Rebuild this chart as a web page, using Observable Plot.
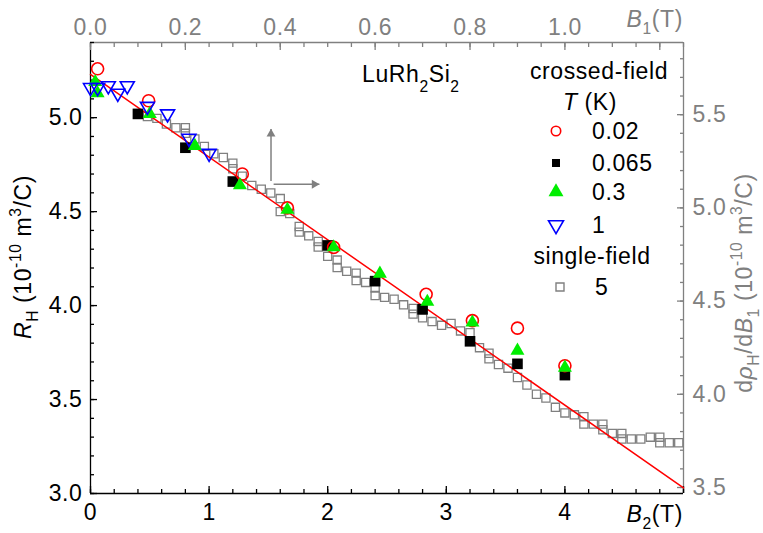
<!DOCTYPE html>
<html>
<head>
<meta charset="utf-8">
<script src="https://cdn.jsdelivr.net/npm/d3@7"></script>
<script src="https://cdn.jsdelivr.net/npm/@observablehq/plot@0.6"></script>
<style>
  html, body { margin: 0; padding: 0; background: #fff; }
</style>
</head>
<body>
<div id="chart"></div>
<script>
// ---------------- data ----------------
// crossed-field, T = 0.02 K (red open circles): B2 (T), R_H (1e-10 m^3/C)
const b2_T002 = [0.06, 0.49, 1.28, 1.66, 2.05, 2.83, 3.22, 3.60, 4.00];
const rh_T002 = [5.26, 5.09, 4.70, 4.52, 4.31, 4.06, 3.92, 3.88, 3.68];
// crossed-field, T = 0.065 K (black squares)
const b2_T0065 = [0.40, 0.80, 1.20, 2.00, 2.40, 2.80, 3.20, 3.60, 4.00];
const rh_T0065 = [5.02, 4.84, 4.66, 4.32, 4.13, 3.98, 3.81, 3.69, 3.63];
// crossed-field, T = 0.3 K (green triangles)
const b2_T03 = [0.04, 0.06, 0.50, 0.88, 1.26, 1.66, 2.05, 2.44, 2.84, 3.22, 3.60, 4.00];
const rh_T03 = [5.19, 5.13, 5.02, 4.85, 4.64, 4.51, 4.31, 4.17, 4.02, 3.91, 3.76, 3.67];
// crossed-field, T = 1 K (blue open down-triangles)
const b2_T1 = [0.00, 0.06, 0.15, 0.23, 0.31, 0.48, 0.65, 0.83, 1.00];
const rh_T1 = [5.16, 5.16, 5.17, 5.13, 5.17, 5.06, 5.02, 4.89, 4.81];
// single-field, T = 5 K (grey open squares): B1 (T, top axis), d rho_H / d B1 (right axis)
const b1_T5 = [0.12,0.14,0.16,0.18,0.20,0.20,0.22,0.24,0.26,0.28,0.30,0.30,0.32,0.34,0.36,0.38,0.40,0.40,0.42,0.44,0.44,0.46,0.48,0.48,0.50,0.52,0.52,0.54,0.56,0.56,0.58,0.60,0.60,0.62,0.64,0.66,0.68,0.68,0.70,0.72,0.74,0.76,0.78,0.80,0.82,0.84,0.84,0.86,0.88,0.90,0.92,0.94,0.96,0.98,1.00,1.02,1.04,1.04,1.06,1.08,1.08,1.10,1.12,1.12,1.14,1.16,1.18,1.20,1.20,1.22,1.24];
const drho_T5 = [5.49,5.48,5.45,5.43,5.43,5.40,5.37,5.33,5.29,5.27,5.24,5.21,5.17,5.12,5.10,5.08,5.05,4.98,4.97,4.90,4.87,4.85,4.82,4.79,4.74,4.72,4.68,4.66,4.65,4.61,4.60,4.57,4.53,4.52,4.51,4.48,4.46,4.43,4.41,4.39,4.37,4.38,4.34,4.33,4.25,4.22,4.19,4.16,4.14,4.09,4.05,4.00,3.98,3.93,3.90,3.89,3.88,3.84,3.84,3.84,3.81,3.79,3.79,3.76,3.76,3.76,3.77,3.77,3.74,3.74,3.74];
// linear fit (red line), in B2 / R_H units
const fitB2 = [0, 5];
const fitRH = [5.23, 3.03];
// field-direction arrows (annotation), B2 / R_H units
const arrowX1 = [1.522, 1.544];
const arrowY1 = [4.663, 4.646];
const arrowX2 = [1.522, 1.93];
const arrowY2 = [4.94, 4.646];
// tick labels
const bottomTicks = [0, 1, 2, 3, 4];
const topTicks = [0.0, 0.2, 0.4, 0.6, 0.8, 1.0];
const leftTicks = [3.0, 3.5, 4.0, 4.5, 5.0];
const rightTicks = [3.5, 4.0, 4.5, 5.0, 5.5];
// legend
const legendLabels = ["0.02", "0.065", "0.3", "1"];

// ---------------- helpers ----------------
const grey = "#808080";
const FONT = "'Liberation Sans', Arial, Helvetica, sans-serif";
const FS = 23;
const LS = "0.6px";
const toLeft = w => 3.0319 + (w - 3.5) * 0.99203;   // right-axis units -> left-axis units
const fromLeft = v => 3.5 + (v - 3.0319) / 0.99203;
const b1ToB2 = b => 4 * b;                             // top axis -> bottom axis units
const round = v => Math.round(v * 1000) / 1000;

const triangleDown = {
  draw(context, size) {
    const s3 = Math.sqrt(3);
    const y = Math.sqrt(size / (s3 * 3));
    context.moveTo(0, y * 2);
    context.lineTo(-s3 * y, -y);
    context.lineTo(s3 * y, -y);
    context.closePath();
  }
};

const zip = (xs, ys) => xs.map((x, i) => ({x, y: ys[i]}));
const sT002 = zip(b2_T002, rh_T002);
const sT0065 = zip(b2_T0065, rh_T0065);
const sT03 = zip(b2_T03, rh_T03);
const sT1 = zip(b2_T1, rh_T1);
const sT5 = b1_T5.map((b, i) => ({x: b1ToB2(b), y: toLeft(drho_T5[i])}));
const fit = zip(fitB2, fitRH);
const arrows = arrowX1.map((x1, i) => ({x1, y1: arrowY1[i], x2: arrowX2[i], y2: arrowY2[i]}));

const bottomMinor = d3.range(0, 5.0001, 0.2).map(round);
const bottomMajor = d3.range(0, 5.0001, 1);
const topMinor = d3.range(0, 1.2501, 0.05).map(b => round(b1ToB2(b)));
const topMajor = d3.range(0, 1.2001, 0.2).map(b => round(b1ToB2(b)));
const leftMinor = d3.range(3.0, 5.4001, 0.1).map(round);
const leftMajor = d3.range(3.0, 5.4001, 0.5).map(round);
const rightMinor = d3.range(3.5, 5.8001, 0.1).map(v => toLeft(round(v)));
const rightMajor = d3.range(3.5, 5.8001, 0.5).map(v => toLeft(round(v)));

const blank = () => "";

const plot = Plot.plot({
  width: 763,
  height: 533,
  marginLeft: 90,
  marginRight: 80,
  marginTop: 42,
  marginBottom: 40,
  style: {fontFamily: FONT, fontSize: FS + "px", color: "#000", background: "#fff", letterSpacing: LS},
  x: {domain: [0, 5]},
  y: {domain: [3.0, 5.4]},
  marks: [
    // frame lines
    Plot.ruleX([5], {stroke: grey, strokeWidth: 1.3}),
    Plot.ruleY([5.4], {stroke: grey, strokeWidth: 1.3}),
    Plot.ruleX([0], {stroke: "#000", strokeWidth: 1.3}),
    Plot.ruleY([3.0], {stroke: "#000", strokeWidth: 1.3}),
    // bottom axis
    Plot.axisX({ticks: bottomMinor, anchor: "bottom", tickSize: -4, tickFormat: blank, label: null, strokeWidth: 1.3}),
    Plot.axisX({ticks: bottomMajor, anchor: "bottom", tickSize: -7, tickFormat: blank, label: null, strokeWidth: 1.3}),
    Plot.axisX({ticks: bottomTicks, anchor: "bottom", tickSize: 0, tickPadding: 10, tickFormat: d => String(d), label: null}),
    // top axis (B1)
    Plot.axisX({ticks: topMinor, anchor: "top", tickSize: -4, tickFormat: blank, label: null, color: grey, strokeWidth: 1.3}),
    Plot.axisX({ticks: topMajor, anchor: "top", tickSize: -7, tickFormat: blank, label: null, color: grey, strokeWidth: 1.3}),
    Plot.axisX({ticks: topTicks.map(b1ToB2), anchor: "top", tickSize: 0, tickPadding: 8, tickFormat: d => (d / 4).toFixed(1), label: null, color: grey}),
    // left axis
    Plot.axisY({ticks: leftMinor, anchor: "left", tickSize: -4, tickFormat: blank, label: null, strokeWidth: 1.3}),
    Plot.axisY({ticks: leftMajor, anchor: "left", tickSize: -7, tickFormat: blank, label: null, strokeWidth: 1.3}),
    Plot.axisY({ticks: leftTicks, anchor: "left", tickSize: 0, tickPadding: 8, tickFormat: d => d.toFixed(1), label: null}),
    // right axis
    Plot.axisY({ticks: rightMinor, anchor: "right", tickSize: -4, tickFormat: blank, label: null, color: grey, strokeWidth: 1.3}),
    Plot.axisY({ticks: rightMajor, anchor: "right", tickSize: -7, tickFormat: blank, label: null, color: grey, strokeWidth: 1.3}),
    Plot.axisY({ticks: rightTicks.map(toLeft), anchor: "right", tickSize: 0, tickPadding: 9, tickFormat: d => fromLeft(d).toFixed(1), label: null, color: grey}),
    // field direction arrows
    Plot.link(arrows, {x1: "x1", y1: "y1", x2: "x2", y2: "y2", stroke: grey, strokeWidth: 1.5}),
    Plot.dot(arrows.slice(0, 1), {x: "x2", y: "y2", dy: 5, symbol: "triangle", r: 3.3, fill: grey, stroke: null}),
    Plot.dot(arrows.slice(1, 2), {x: "x2", y: "y2", dx: -5, symbol: "triangle", rotate: 90, r: 3.3, fill: grey, stroke: null}),
    // single-field 5 K
    Plot.dot(sT5, {x: "x", y: "y", symbol: "square", r: 4.6, fill: "none", stroke: grey, strokeWidth: 1.3}),
    // fit line
    Plot.line(fit, {x: "x", y: "y", stroke: "#ff0000", strokeWidth: 1.5}),
    // crossed-field series
    Plot.dot(sT0065, {x: "x", y: "y", symbol: "square", r: 6.0, fill: "#000", stroke: null}),
    Plot.dot(sT002, {x: "x", y: "y", symbol: "circle", r: 6.0, fill: "none", stroke: "#ff0000", strokeWidth: 1.6}),
    Plot.dot(sT03, {x: "x", y: "y", symbol: "triangle", r: 5.2, fill: "#00ee00", stroke: null}),
    Plot.dot(sT1, {x: "x", y: "y", symbol: triangleDown, r: 5.2, fill: "none", stroke: "#0000ff", strokeWidth: 1.6})
  ]
});

document.getElementById("chart").appendChild(plot);

// ---------------- rich text (sub/superscripts), legend ----------------
const svg = d3.select(plot);

function rich(x, y, parts, {anchor = "start", fill = "#000", rotate = 0, size = FS, subShift = 0.3, supShift = 0.42} = {}) {
  const t = svg.append("text")
    .attr("transform", `translate(${x},${y}) rotate(${rotate})`)
    .attr("text-anchor", anchor)
    .attr("fill", fill)
    .attr("font-family", FONT)
    .attr("font-size", size)
    .style("letter-spacing", LS);
  let shift = 0;
  for (const [txt, kind] of parts) {
    const ts = t.append("tspan").text(txt);
    let target = 0;
    if (kind === "sub") { target = size * subShift; ts.attr("font-size", size * 0.68); }
    if (kind === "sup") { target = -size * supShift; ts.attr("font-size", size * 0.68); }
    if (kind === "i") ts.attr("font-style", "italic");
    if (target - shift !== 0) ts.attr("dy", target - shift);
    shift = target;
  }
  return t;
}

// axis titles
rich(683, 522, [["B", "i"], ["2", "sub"], ["(T)"]], {anchor: "end"});
rich(683, 27, [["B", "i"], ["1", "sub"], ["(T)"]], {anchor: "end", fill: grey});
rich(31, 257, [["R", "i"], ["H", "sub"], [" (10"], ["-10", "sup"], [" m"], ["3", "sup"], ["/C)"]], {anchor: "middle", rotate: -90});
rich(752, 283, [["d"], ["ρ", "i"], ["H", "sub"], ["/d"], ["B", "i"], ["1", "sub"], [" (10"], ["-10", "sup"], [" m"], ["3", "sup"], ["/C)"]], {anchor: "middle", rotate: -90, fill: grey});

// compound label
rich(362, 82, [["LuRh"], ["2", "sub"], ["Si"], ["2", "sub"]], {subShift: 0.42});

// legend
rich(599, 79, [["crossed-field"]], {anchor: "middle"});
rich(590, 110, [["T", "i"], [" (K)"]], {anchor: "middle"});
const legendY = [131, 163, 192, 225];
const legendSym = [
  {type: d3.symbolCircle, size: Math.PI * 4.7 * 4.7, fill: "none", stroke: "#ff0000"},
  {type: d3.symbolSquare, size: 64, fill: "#000", stroke: "none"},
  {type: d3.symbolTriangle, size: 97, fill: "#00ee00", stroke: "none"},
  {type: triangleDown, size: 97, fill: "none", stroke: "#0000ff"}
];
legendLabels.forEach((lab, i) => {
  const s = legendSym[i];
  svg.append("path")
    .attr("d", d3.symbol(s.type, s.size)())
    .attr("transform", `translate(556,${legendY[i]})`)
    .attr("fill", s.fill).attr("stroke", s.stroke).attr("stroke-width", 1.6);
  rich(592, legendY[i] + 8, [[lab]]);
});
rich(592, 264, [["single-field"]], {anchor: "middle"});
svg.append("path")
  .attr("d", d3.symbol(d3.symbolSquare, 64)())
  .attr("transform", "translate(560,287)")
  .attr("fill", "none").attr("stroke", grey).attr("stroke-width", 1.4);
rich(595, 295, [["5"]]);
</script>
</body>
</html>
